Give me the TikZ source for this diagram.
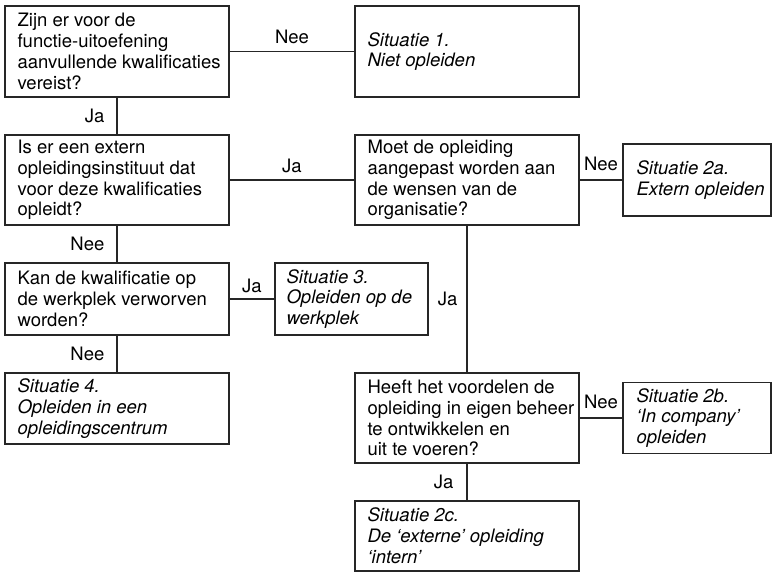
\documentclass[tikz,border=0pt]{standalone}
\usepackage{fontspec}
\setmainfont{TeX Gyre Heros}
\begin{document}
\begin{tikzpicture}[x=1pt,y=-1pt,
  box/.style={draw=black!85, line width=1.2pt, inner sep=0pt},
  txt/.style={anchor=west, align=left, inner sep=0pt, font=\fontsize{18.5}{20.8}\selectfont},
  sit/.style={txt, font=\fontsize{18.5}{20.8}\selectfont\itshape},
  lbl/.style={inner sep=0pt, font=\fontsize{18.5}{20.8}\selectfont},
  link/.style={draw=black!85, line width=1.2pt}]
\useasboundingbox (0,0) rectangle (772,573);

% question boxes (left column)
\node[box, minimum width=224pt, minimum height=91pt] (A) at (117,51.5) {};
\node[txt] (At) at ([xshift=13pt]A.west) {Zijn er voor de\\functie-uitoefening\\aanvullende kwalificaties\\vereist?};
\node[box, minimum width=224pt, minimum height=90pt] (B) at (117,180) {};
\node[txt] (Bt) at ([xshift=13pt]B.west) {Is er een extern\\opleidingsinstituut dat\\voor deze kwalificaties\\opleidt?};
\node[box, minimum width=224pt, minimum height=72pt] (D) at (117,299) {};
\node[txt] (Dt) at ([xshift=13pt]D.west) {Kan de kwalificatie op\\de werkplek verworven\\worden?};
\node[box, minimum width=224pt, minimum height=71pt] (S4) at (117,408.5) {};
\node[sit] (S4t) at ([xshift=13pt]S4.west) {Situatie 4.\\Opleiden in een\\opleidingscentrum};

% middle column
\node[box, minimum width=224pt, minimum height=91pt] (S1) at (467,51.5) {};
\node[sit] (S1t) at ([xshift=13pt]S1.west) {Situatie 1.\\Niet opleiden};
\node[box, minimum width=224pt, minimum height=90pt] (C) at (467,180) {};
\node[txt] (Ct) at ([xshift=13pt]C.west) {Moet de opleiding\\aangepast worden aan\\de wensen van de\\organisatie?};
\node[box, minimum width=153pt, minimum height=72pt] (S3) at (351.5,299) {};
\node[sit] (S3t) at ([xshift=12pt]S3.west) {Situatie 3.\\Opleiden op de\\werkplek};
\node[box, minimum width=224pt, minimum height=90pt] (E) at (467,418) {};
\node[txt] (Et) at ([xshift=13pt]E.west) {Heeft het voordelen de\\opleiding in eigen beheer\\te ontwikkelen en\\uit te voeren?};
\node[box, minimum width=224pt, minimum height=70pt] (S2c) at (467,536) {};
\node[sit] (S2ct) at ([xshift=13pt]S2c.west) {Situatie 2c.\\De `externe' opleiding\\`intern'};

% right column
\node[box, minimum width=148pt, minimum height=72pt] (S2a) at (697,180) {};
\node[sit] (S2at) at ([xshift=14pt]S2a.west) {Situatie 2a.\\Extern opleiden};
\node[box, minimum width=148pt, minimum height=71pt] (S2b) at (697,418) {};
\node[sit] (S2bt) at ([xshift=14pt]S2b.west) {Situatie 2b.\\`In company'\\opleiden};

% connectors with their answers
\draw[link] (A.east) -- node[lbl, midway, above=7pt] (l1) {Nee} (S1.west);
\draw[link] (A.south) -- node[lbl, midway, left=12pt] (l2) {Ja} (B.north);
\draw[link] (B.east) -- node[lbl, midway, above=6.5pt] (l3) {Ja} (C.west);
\draw[link] (C.east) -- node[lbl, midway, above=8.5pt] (l4) {Nee} (S2a.west);
\draw[link] (B.south) -- node[lbl, midway, left=12pt] (l5) {Nee} (D.north);
\draw[link] (D.east) -- node[lbl, midway, above=5.5pt] (l6) {Ja} (S3.west);
\draw[link] (D.south) -- node[lbl, midway, left=12pt] (l7) {Nee} (S4.north);
\draw[link] (C.south) -- node[lbl, midway, left=9pt] (l8) {Ja} (E.north);
\draw[link] (E.east) -- node[lbl, midway, above=8.5pt] (l9) {Nee} (S2b.west);
\draw[link] (E.south) -- node[lbl, midway, left=13pt] (l10) {Ja} (S2c.north);
\end{tikzpicture}
\end{document}
